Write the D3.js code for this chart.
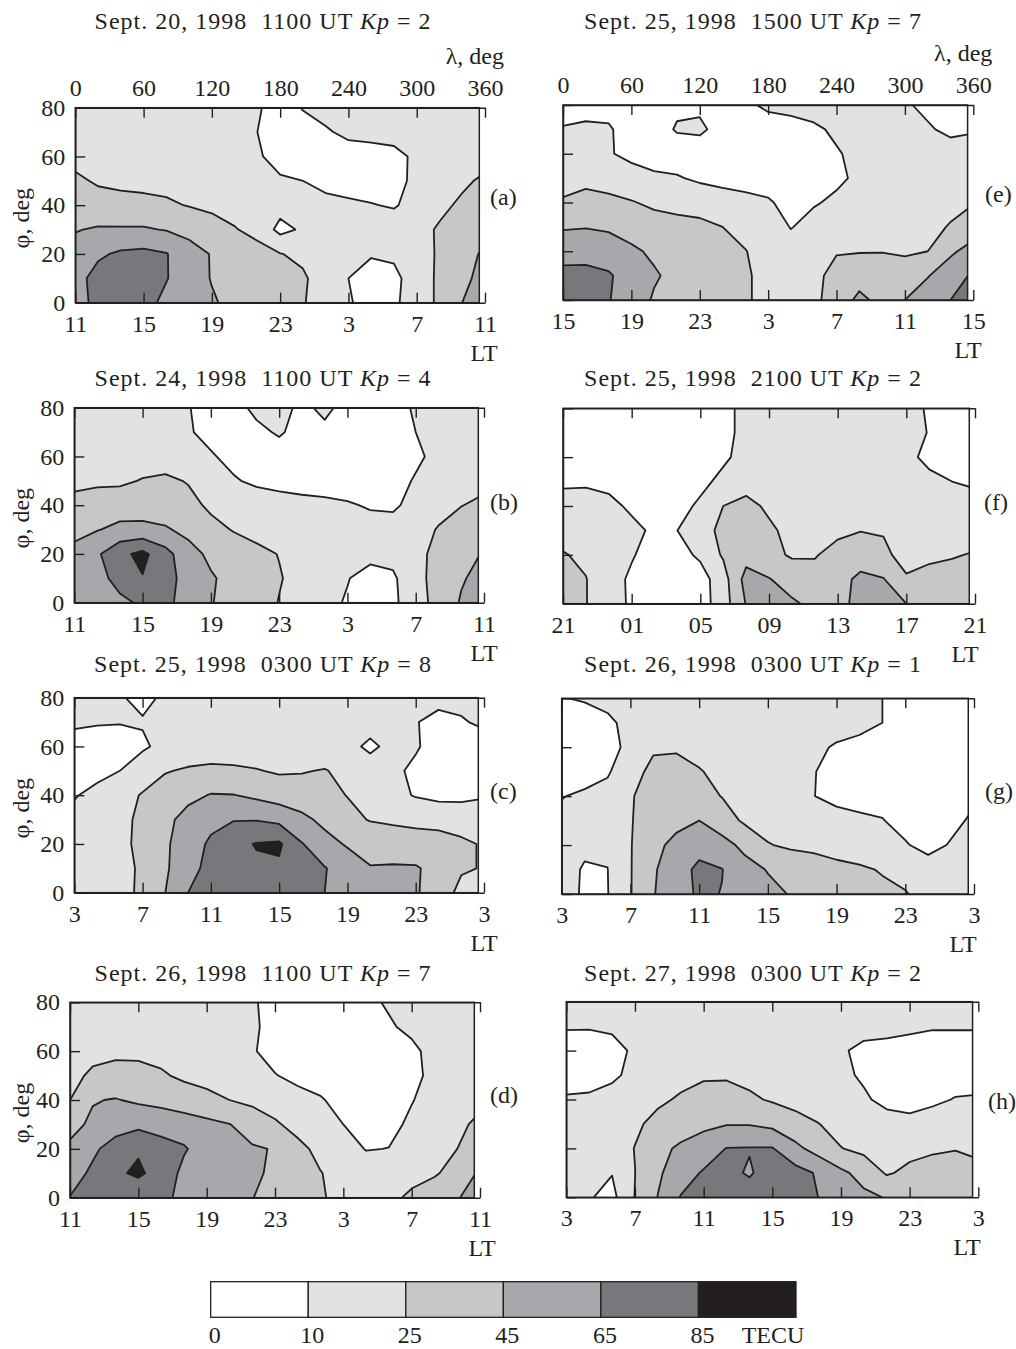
<!DOCTYPE html>
<html>
<head>
<meta charset="utf-8">
<script src="https://cdn.jsdelivr.net/npm/d3@7"></script>
<style>
  body { margin: 0; background: #fff; }
  svg text { font-family: "Liberation Serif", "Times New Roman", serif; font-size: 24px; fill: #231f20; }
</style>
</head>
<body>
<svg id="chart" width="1016" height="1349"></svg>
<script>
// grid nodes of the TEC maps (deg)
const lonGrid = [0,20,40,60,80,100,120,140,160,180,200,220,240,260,280,300,320,340,360];
const latGrid = [0,10,20,30,40,50,60,70,80];
const lonEdge = 355; // last map longitude
const lonTicks = [0,60,120,180,240,300,360];
const latTicks = [0,20,40,60,80];
const tecLevels = [0,10,25,45,65,85];
const tecColors = ["#ffffff","#e1e2e4","#c6c7c9","#a7a8ab","#77787b","#231f20"];

const panelIds = ["a","b","c","d","e","f","g","h"];
const panelDates = ["Sept. 20, 1998","Sept. 24, 1998","Sept. 25, 1998","Sept. 26, 1998",
                    "Sept. 25, 1998","Sept. 25, 1998","Sept. 26, 1998","Sept. 27, 1998"];
const panelUT = ["1100","1100","0300","1100","1500","2100","0300","0300"];
const panelKp = [2,4,8,7,7,2,1,2];

const ltA = ["11","15","19","23","3","7","11"];
const ltB = ["11","15","19","23","3","7","11"];
const ltC = ["3","7","11","15","19","23","3"];
const ltD = ["11","15","19","23","3","7","11"];
const ltE = ["15","19","23","3","7","11","15"];
const ltF = ["21","01","05","09","13","17","21"];
const ltG = ["3","7","11","15","19","23","3"];
const ltH = ["3","7","11","15","19","23","3"];

// TEC, TECU; rows = latGrid (0..80), columns = lonGrid (0..360)
const tecA = [
  [58,70,74,72,60,52,47,40,34,30,26,18,11,6,8,16,28,45,55],
  [58,72,76,74,66,54,44,38,33,30,27,18,10,5,7,16,28,40,52],
  [52,62,68,70,66,52,44,38,31,25.5,22,17,13,11,12,18,27,38,48],
  [44,47,47,47,44,40,33,26,20,6,12,18,17,15,16,19,27,33,40],
  [33,32,31,30,28,24,21,19,17,15,14,13,12,10.5,9,14,21,28,34],
  [28,23,21,20,19,18,17,15,13,11,10,7,5,5,6,13,17,22,28],
  [20,18,17,16,15,14,13,12,11,7,5,5,6,6,7,12,15,17,19],
  [18,17,16,15,14,13,13,12,10,5,6,9,12,13,14,15,16,17,18],
  [17,17,16,15,14,13,13,12,11,6,10.5,13,14,14,15,15,16,17,17]
];
const tecB = [
  [55,58,62,67,68,60,46,38,31,24.5,18,13,9,5,7,19,30,47,55],
  [55,60,70,84,72,58,47,39,32,26,20,14,10.5,6,8,19,32,43,52],
  [48,62,80,90,72,52,41,34,29,24.5,20,16,14,13,14,20,30,40,46],
  [42,44,50,50,47,40,30,24,20,17,15,14,14,14,15,19,26,33,37],
  [30,33,35,36,35,30,22,18,16,14,13,12,11,9,8,14,20,24.5,29],
  [21,22,22,26,28,24,16,11,8,7,6,6,5,5,6,11,15,18,20],
  [16,16,17,17,17,14,11,7,6,6,5,5,5,5,6,8,13,15,16],
  [16,16,15,15,14,11,7,6,8,11,7,8,5,6,7,10,13,15,16],
  [15,15,14,14,13,10.5,6,7,12,13,8,12,7,6,7,11,13,14,15]
];
const tecC = [
  [16,17,20,28,45,65,72,76,78,76,72,65,58,54,52,47,35,20,16],
  [17,18,21,27,43,55,74,80,82,82,76,66,56,46,47,47,38,27,24],
  [19,20,22,28,42,56,68,80,86,88,66,52,43,38,35,32,30,27,24],
  [14,15,20,29,40,52,60,64,64,60,50,40,30,24,22,21,21,20,16],
  [9,14,20,26,33,40,46,45.5,41,36,33,30,24.5,18,14,9,6,6,9],
  [5,6,10,18,24,27,29,28,26,23,24,26,20,15,12,8,5,5,5],
  [5,4,5,8,14,15,15,15,15,15,15,14,13,8,13,11,6,5,5],
  [12,11,10.5,11,14,15,15,15,15,15,15,15,14,14,13,10.5,7,9,12],
  [13,13,11,7,12,14,14,14,14,14,14,14,14,14,14,14,13,13,13]
];
const tecD = [
  [65.5,74,80,72,70,60,54,49,45.5,38,32,26,22,18,21,28,36,44,52],
  [58,68,82,88,78,60,54,50,47,43,35,25.5,20,16,18,20,23,32,48],
  [48,62,72,83,70,67,56,50,47,44,29,21,15,9.5,10.2,15,20,25,34],
  [40,48,58,60,60,55,50,45.5,36,27,20,14,10,5,7,12,17,22,28],
  [25,44,46,42,38,34,30,25,21,18,14,11,6,4,5,9.5,14,18,22],
  [20,28,32,31,27,22,19,16,13,10.5,7,5,4,4,5,7,13,15,17],
  [17,20,21,21,20,18,16,14,11,6,5,5,4,4,5,8,13,15,16],
  [15,16,17,17,16,15,14,13,11,8,5,5,5,6,9,12,14,15,15],
  [14,14,14,14,14,14,13,13,11,7,5,5,5,8,11,13,14,14,14]
];
const tecE = [
  [72,70,66,55,43,38,34,30,27,20,16,20,35,49,40,45,55,65,72],
  [70,69,67,57,47,40,35,31,27,20,16,21,30,38,34,36,44,55,68],
  [58,60,56,48,42,38,34,30,25.5,19,15,18,24,24,24.5,22,25,42,52],
  [43,44,42,38,32,30,29,25,20,16,9.5,14,18,19,18,18,21,26,36],
  [27,30,29,26,22,20,18,16,13,11,7,9,12,14,15,16,18,21,24],
  [18,21,18,15,12,11,8,6,6,6,5,6,8,12,14,15,16,17,17],
  [15,14,11,7,5,4,4,4,4,4,4,5,9,13,14,14,14,14,15],
  [10.5,12,11,6,5,11,12,6,5,5,5,8,12,14,14,13,11,8,9],
  [7,6,7,6,6,8,8,6,8,12,14,15,15,14,13,11,8,6,6]
];
const tecF = [
  [30,25.5,16,8,4,3,5,16,46,55,48,40,38,52,50,45,36,32,30],
  [28,25.5,15,8,4,3,5,17,52,46,36,30,37,50,46,26.5,30,30,28],
  [26,22,17,11,5,6,12,27,38,30,23,24,30,34,28,20,22,24,26],
  [19,19,17,13,8,10,17,30,36,28,20,19,22,24.5,24,19,19,19,19],
  [15,16,13,8,4,6,12,25,30,22,18,17,17,18,18,17,16,16,15],
  [8,8,7,5,3,4,7,13,18,17,16,16,16,15,14,14,12,10,8],
  [6,5,5,4,3,3,4,8,14,16,16,16,16,15,14,12,8,6,6],
  [5,5,5,4,3,3,4,6,14,16,16,16,16,15,14,14,9.5,5,5],
  [5,5,5,4,3,3,4,7,13,15,15,15,15,15,14,13,9,5,5]
];
const tecG = [
  [13,9,9.5,24,44,56,68,64.5,54,50,44,38,34,31,28,26,19,15,13],
  [14,9,9.8,24,43,55,70,65.5,52,44,38,33,29,27,24,20,16,15,14],
  [13,12,12,24,40,50,57,52,40,26,22,21,19,17,15,11,6,11,13],
  [13,14,15,24,33,40,45,34,22,18,16,15,14,12,10.5,6,4,7,12],
  [9.5,12,16,24,30,32,31,24.5,20,16,13,10.2,7,6,6,5,5,6,8],
  [5,5,8,22,27,28,26,21,17,14,12,10.5,6,5,5,5,5,5,5],
  [4,4,6,13,24,24,20,18,16,14,13,12,9,7,5,4,4,4,4],
  [4,5,8,13,15,15,15,15,15,15,15,14,14,13,10,6,5,4,4],
  [9.5,11,13,14,14,14,14,14,14,14,14,14,14,13,10,7,6,6,8]
];
const tecH = [
  [18,11,6,25.5,45.5,66,72,74,74,73,70,65,55,49,44,38,33,30,28],
  [17,13,10.5,24.8,42,56,67,70,63,74,72,63,49,38,23,29,31,30,29],
  [15,15,16,25.5,40,48,54,65.5,66,66,50,37,25.5,20,18,20,23,24.5,22],
  [14,14,16,22,30,36,41,44,44,40,32,25.5,19,16,13,13,15,16,15],
  [11,12,14,17,22,27,31,32,28,23,19,16,13,11,8,6,8,10.5,11],
  [6,5,8,13,17,20,23,23,20,17,15,13,11.5,9,5,4,5,6,6],
  [5,4,6,12,13,14,15,15,15,14,13,12,11,8,7,6,5,5,5],
  [11,11,12,13,13,13,13,13,13,13,13,13,13,13,13,12,11,11,11],
  [13,13,13,14,14,14,14,14,14,14,14,14,14,14,14,14,13,13,13]
];

const tecGrids = [tecA, tecB, tecC, tecD, tecE, tecF, tecG, tecH];
const ltLabels = [ltA, ltB, ltC, ltD, ltE, ltF, ltG, ltH];

// page layout of the eight maps
const layout = [
  {left: 75.3, right: 485,   top: 107.7, bottom: 302.7, titleX: 263, titleY: 29,  letterX: 490, letterY: 205,  ltX: 484, col: 0, lonLabels: true},
  {left: 74.3, right: 484,   top: 407.7, bottom: 602.7, titleX: 263, titleY: 386, letterX: 490, letterY: 510,  ltX: 484, col: 0},
  {left: 74.3, right: 484,   top: 697.7, bottom: 892.7, titleX: 263, titleY: 672, letterX: 490, letterY: 799,  ltX: 484, col: 0},
  {left: 70,   right: 480,   top: 1002.3, bottom: 1197.7, titleX: 263, titleY: 981, letterX: 490, letterY: 1103, ltX: 482, col: 0},
  {left: 563,  right: 973.3, top: 105,   bottom: 300,   titleX: 753, titleY: 29,  letterX: 985, letterY: 202,  ltX: 968, col: 1, lonLabels: true},
  {left: 563,  right: 975,   top: 408.3, bottom: 603.7, titleX: 753, titleY: 386, letterX: 984, letterY: 510,  ltX: 965, col: 1},
  {left: 561.7, right: 974,  top: 698.3, bottom: 894,   titleX: 753, titleY: 672, letterX: 985, letterY: 799,  ltX: 963, col: 1},
  {left: 566.3, right: 978.3, top: 1001.7, bottom: 1197.3, titleX: 753, titleY: 981, letterX: 988, letterY: 1109, ltX: 967, col: 1}
];

const ink = "#231f20";
const svg = d3.select("#chart");
const defs = svg.append("defs");

function drawPanel(p, i) {
  const grid = tecGrids[i];
  const id = panelIds[i];
  const x = d3.scaleLinear().domain(d3.extent(lonTicks)).range([p.left, p.right]);
  const y = d3.scaleLinear().domain(d3.extent(latTicks)).range([p.bottom, p.top]);
  const g = svg.append("g").attr("class", "panel-" + id);

  const x0 = x(lonGrid[0]), x1 = x(lonEdge);
  const y0 = y(latGrid[latGrid.length - 1]), y1 = y(latGrid[0]);
  defs.append("clipPath").attr("id", "clip-" + id)
    .append("rect").attr("x", x0).attr("y", y0).attr("width", x1 - x0).attr("height", y1 - y0);

  // contour coords: node k sits at k + 0.5
  const lonStep = lonGrid[1] - lonGrid[0], latStep = latGrid[1] - latGrid[0];
  const proj = d3.geoTransform({
    point(cx, cy) {
      this.stream.point(x(lonGrid[0] + (cx - 0.5) * lonStep), y(latGrid[0] + (cy - 0.5) * latStep));
    }
  });
  const path = d3.geoPath(proj);
  const bands = d3.contours()
    .size([lonGrid.length, latGrid.length])
    .thresholds(tecLevels.slice(1))(grid.flat());

  const map = g.append("g").attr("clip-path", `url(#clip-${id})`);
  map.append("rect").attr("x", x0).attr("y", y0).attr("width", x1 - x0).attr("height", y1 - y0)
    .attr("fill", tecColors[0]);
  map.selectAll("path.band").data(bands).join("path")
    .attr("class", "band")
    .attr("d", path)
    .attr("fill", (d, k) => tecColors[k + 1])
    .attr("fill-rule", "evenodd");
  map.selectAll("path.iso").data(bands).join("path")
    .attr("class", "iso")
    .attr("d", path)
    .attr("fill", "none")
    .attr("stroke", ink)
    .attr("stroke-width", 1.8)
    .attr("stroke-linejoin", "round");

  g.append("rect").attr("x", x0).attr("y", y0).attr("width", x1 - x0).attr("height", y1 - y0)
    .attr("fill", "none").attr("stroke", ink).attr("stroke-width", 1.5);

  const top = g.append("g").attr("transform", `translate(0,${p.top})`)
    .call(d3.axisTop(x).tickValues(lonTicks).tickSize(-10).tickSizeOuter(0).tickPadding(12)
      .tickFormat(d => p.lonLabels ? d : ""));
  const bottom = g.append("g").attr("transform", `translate(0,${p.bottom})`)
    .call(d3.axisBottom(x).tickValues(lonTicks).tickSize(-10).tickSizeOuter(0).tickPadding(12)
      .tickFormat((d, k) => ltLabels[i][k]));
  const left = g.append("g").attr("transform", `translate(${p.left},0)`)
    .call(d3.axisLeft(y).tickValues(latTicks).tickSize(-10).tickSizeOuter(0).tickPadding(10)
      .tickFormat(d => p.col === 0 ? d : ""));
  [top, bottom, left].forEach(a => {
    a.select(".domain").attr("stroke", ink).attr("stroke-width", 1.5);
    a.selectAll(".tick line").attr("stroke", ink).attr("stroke-width", 1.4);
  });

  // title
  const t = g.append("text").attr("x", p.titleX).attr("y", p.titleY)
    .attr("text-anchor", "middle").style("white-space", "pre").style("letter-spacing", "1px");
  t.append("tspan").text(`${panelDates[i]}  ${panelUT[i]} UT `);
  t.append("tspan").attr("font-style", "italic").text("Kp");
  t.append("tspan").text(` = ${panelKp[i]}`);

  g.append("text").attr("x", p.letterX).attr("y", p.letterY).text(`(${id})`);
  g.append("text").attr("x", p.ltX).attr("y", p.bottom + 58).attr("text-anchor", "middle").text("LT");

  if (p.lonLabels) {
    g.append("text").attr("x", p.right + 19).attr("y", p.top - 44)
      .attr("text-anchor", "end").text("λ, deg");
  }
  if (p.col === 0) {
    const cy = (p.top + p.bottom) / 2 + 13;
    g.append("text").attr("transform", `translate(29,${cy}) rotate(-90)`)
      .attr("text-anchor", "middle").text("φ, deg");
  }
}

layout.forEach(drawPanel);

// colour scale
const cb = d3.scaleLinear().domain([0, tecColors.length]).range([210.7, 796]);
const cbTop = 1281.7, cbH = 35.6;
const bar = svg.append("g").attr("class", "colorbar");
bar.selectAll("rect").data(tecColors).join("rect")
  .attr("x", (d, k) => cb(k))
  .attr("y", cbTop)
  .attr("width", (d, k) => cb(k + 1) - cb(k))
  .attr("height", cbH)
  .attr("fill", d => d)
  .attr("stroke", ink)
  .attr("stroke-width", 1.3);
bar.selectAll("text.lvl").data(tecLevels).join("text")
  .attr("class", "lvl")
  .attr("x", (d, k) => cb(k) + 4)
  .attr("y", 1343)
  .attr("text-anchor", "middle")
  .text(d => d);
bar.append("text").attr("x", 773).attr("y", 1343).attr("text-anchor", "middle").text("TECU");
</script>
</body>
</html>
